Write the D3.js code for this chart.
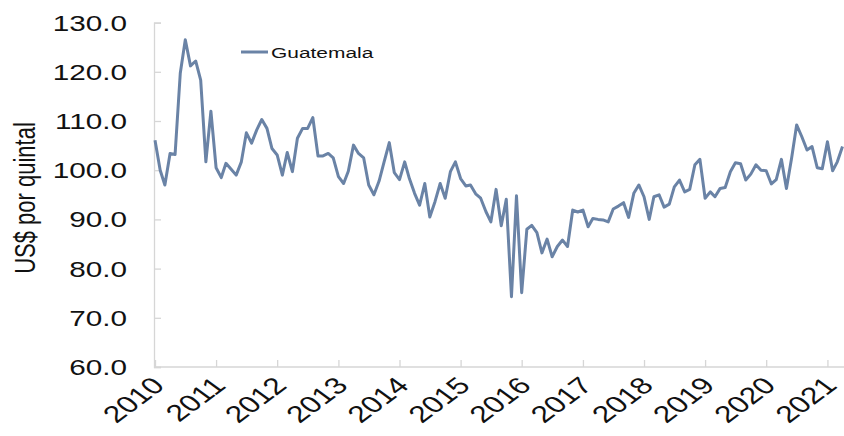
<!DOCTYPE html>
<html>
<head>
<meta charset="utf-8">
<script src="https://cdn.jsdelivr.net/npm/d3@7"></script>
<style>
  html, body { margin: 0; padding: 0; background: #fff; }
  svg { display: block; }
  text { font-family: "Liberation Sans", Arial, sans-serif; fill: #111; }
</style>
</head>
<body>
<svg id="chart" width="844" height="436"></svg>
<script>
// Monthly series, Jan 2010 .. Apr 2021
const seriesName = "Guatemala";
const startDate = "2010-01-01";
const values = [
  106.1, 100.0, 97.0, 103.4, 103.2, 119.7, 126.5, 121.2, 122.2, 118.3, 101.7, 112.0,
  100.5, 98.5, 101.4, 100.2, 99.0, 101.7, 107.6, 105.5, 108.2, 110.3, 108.5, 104.4,
  103.1, 99.0, 103.6, 99.7, 106.5, 108.5, 108.5, 110.7, 102.9, 102.9, 103.4, 102.5,
  98.7, 97.3, 99.8, 105.1, 103.4, 102.5, 97.0, 95.0, 97.8, 101.7, 105.6, 99.5,
  98.1, 101.7, 98.3, 95.3, 92.9, 97.3, 90.5, 93.6, 97.3, 94.3, 99.7, 101.7,
  98.3, 96.8, 97.0, 95.2, 94.3, 91.6, 89.5, 96.1, 88.7, 94.1, 74.3, 94.8,
  75.1, 88.0, 88.8, 87.3, 83.2, 86.0, 82.4, 84.5, 85.8, 84.5, 91.9, 91.5,
  91.9, 88.5, 90.2, 90.0, 89.9, 89.5, 92.1, 92.7, 93.4, 90.4, 95.3, 97.0,
  94.6, 90.0, 94.6, 95.0, 92.5, 93.1, 96.6, 98.0, 95.6, 96.1, 101.1, 102.2,
  94.3, 95.6, 94.6, 96.3, 96.5, 99.7, 101.5, 101.3, 98.0, 99.2, 101.1, 100.0,
  99.9, 97.2, 98.1, 102.2, 96.3, 102.5, 109.2, 106.8, 104.1, 104.8, 100.5, 100.3,
  105.8, 99.9, 101.7, 104.8
];
const yearLabels = ["2010","2011","2012","2013","2014","2015","2016","2017","2018","2019","2020","2021"];
const yTicks = [60, 70, 80, 90, 100, 110, 120, 130];
const yTitle = "US$ por quintal";

(function () {
const svg = d3.select("#chart");
const stretch = 1.35;
const mLeft = 155, mRight = 842.5, mTop = 22.6, mBottom = 367;

const start = new Date(startDate + "T00:00:00");
const dates = values.map((v, i) => d3.timeMonth.offset(start, i));
const data = values.map((v, i) => ({ date: dates[i], value: v }));

const x = d3.scaleTime().domain([dates[0], dates[dates.length - 1]]).range([mLeft, mRight]);
const y = d3.scaleLinear().domain([60, 130]).range([mBottom, mTop]);

const axisColor = "#d6d6d6";

// Y axis
const yAxis = svg.append("g").attr("transform", `translate(${mLeft - 1},0)`)
  .call(d3.axisRight(y).tickValues(yTicks).tickSize(7).tickFormat(""));
yAxis.select(".domain").attr("stroke", axisColor).attr("stroke-width", 1.3);
yAxis.selectAll(".tick line").attr("stroke", axisColor).attr("stroke-width", 1.3);

svg.append("g").selectAll("text").data(yTicks).join("text")
  .attr("transform", d => `translate(127,${y(d)}) scale(${stretch},1)`)
  .attr("text-anchor", "end")
  .attr("dy", "0.36em")
  .attr("font-size", 22)
  .text(d => d3.format(".1f")(d));

// X axis
const yearDates = yearLabels.map(yy => new Date(+yy, 0, 1));
const xAxis = svg.append("g").attr("transform", `translate(0,${mBottom})`)
  .call(d3.axisTop(x).tickValues(yearDates).tickSize(7).tickFormat(""));
xAxis.select(".domain").attr("stroke", axisColor).attr("stroke-width", 1.3)
  .attr("d", `M${mLeft - 1},0H844`);
xAxis.selectAll(".tick line").attr("stroke", axisColor).attr("stroke-width", 1.3);

svg.append("g").selectAll("text").data(yearLabels).join("text")
  .attr("transform", (d, i) => `translate(${x(yearDates[i]) + 3},${mBottom + 14}) scale(${stretch},1) rotate(-45)`)
  .attr("text-anchor", "end")
  .attr("dy", "0.36em")
  .attr("font-size", 23.5)
  .text(d => d);

// Y title
svg.append("text")
  .attr("transform", `translate(24,198) scale(${stretch},1) rotate(-90)`)
  .attr("text-anchor", "middle")
  .attr("dy", "0.36em")
  .attr("font-size", 22)
  .text(yTitle);

// Line
const lineColor = "#6a83a6";
svg.append("path")
  .datum(data)
  .attr("fill", "none")
  .attr("stroke", lineColor)
  .attr("stroke-width", 3)
  .attr("stroke-linejoin", "round")
  .attr("d", d3.line().x(d => x(d.date)).y(d => y(d.value)));

// Legend
const lg = svg.append("g");
lg.append("line").attr("x1", 241).attr("x2", 268).attr("y1", 52).attr("y2", 52)
  .attr("stroke", lineColor).attr("stroke-width", 3);
lg.append("text")
  .attr("transform", `translate(271,52) scale(${stretch},1)`)
  .attr("dy", "0.36em")
  .attr("font-size", 15.5)
  .text(seriesName);
})();
</script>
</body>
</html>
